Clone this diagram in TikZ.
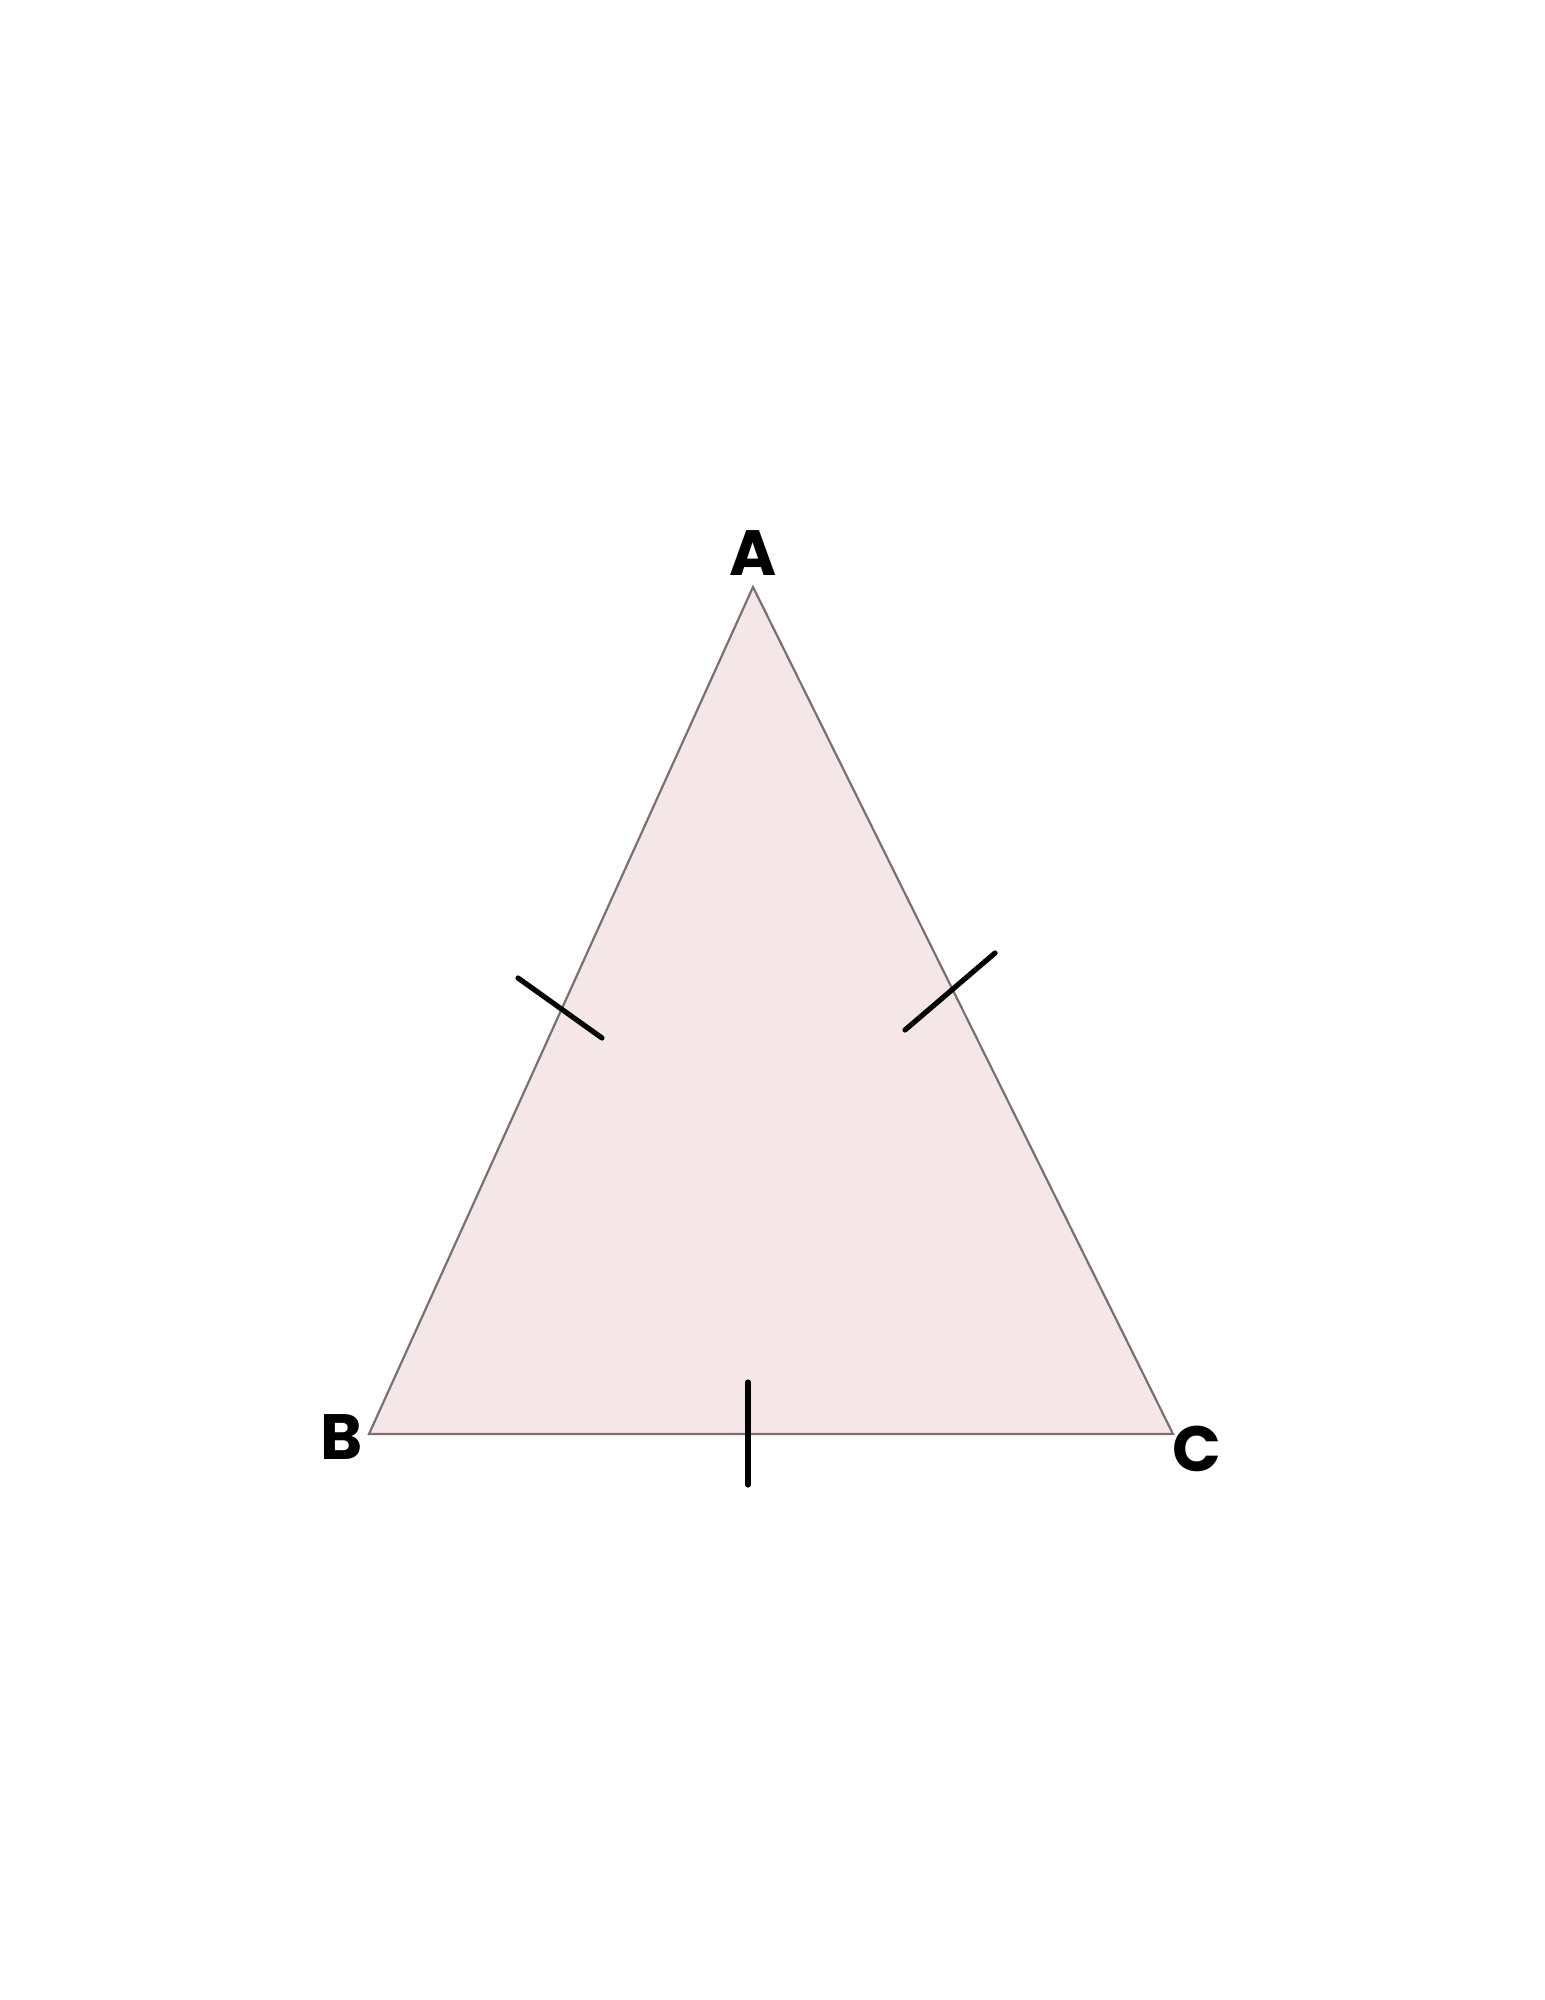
\documentclass[tikz,border=0pt]{standalone}
\usepackage{fontspec}
\setmainfont{Poppins}
\definecolor{trifill}{HTML}{F5E7E8}
\definecolor{tristroke}{HTML}{7A6F72}
\begin{document}
\begin{tikzpicture}[x=0.5pt,y=-0.5pt,
  side/.style={draw=tristroke,line width=1.1pt,fill=trifill,line join=miter},
  tick/.style={draw=black,line width=2.6pt,line cap=round},
  vlabel/.style={font=\fontsize{32}{36}\selectfont\bfseries,inner sep=0pt}]
\useasboundingbox (0,0) rectangle (1545,2000);
\coordinate (A) at (753,587);
\coordinate (B) at (369,1434);
\coordinate (C) at (1173,1434);
\filldraw[side] (A) -- (B) -- (C) -- cycle;
% tick marks
\coordinate (t1a) at (518,978); \coordinate (t1b) at (602,1038);
\coordinate (t2a) at (905,1030); \coordinate (t2b) at (995,953);
\coordinate (t3a) at (748,1382); \coordinate (t3b) at (748,1485);
\draw[tick] (t1a) -- (t1b);
\draw[tick] (t2a) -- (t2b);
\draw[tick] (t3a) -- (t3b);
% labels
\node[vlabel] (lA) at (753,553) {A};
\node[vlabel] (lB) at (342,1437) {B};
\node[vlabel] (lC) at (1197,1449) {C};
\end{tikzpicture}
\end{document}
